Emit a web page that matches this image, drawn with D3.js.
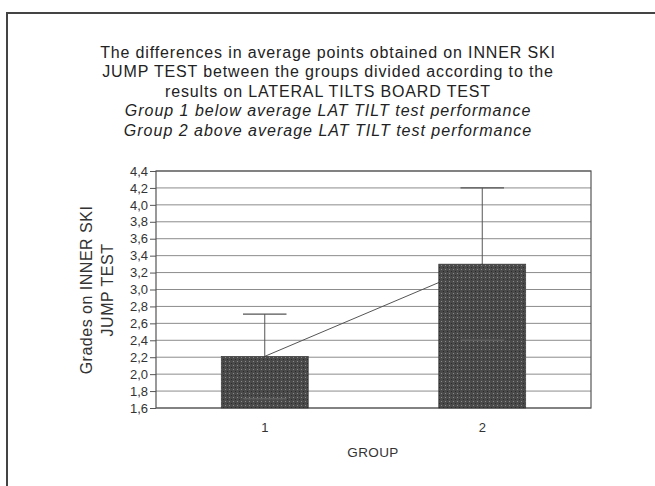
<!DOCTYPE html>
<html><head><meta charset="utf-8">
<script src="https://cdn.jsdelivr.net/npm/d3@7"></script>
<style>body{margin:0;background:#fff}svg{display:block}</style>
</head><body>
<svg id="c" width="655" height="486"></svg>
<script>
const groups = ["1", "2"];
const means = [2.21, 3.30];
const errors = [0.50, 0.90];
const yTicks = [1.6,1.8,2.0,2.2,2.4,2.6,2.8,3.0,3.2,3.4,3.6,3.8,4.0,4.2,4.4];
const titleLines = [
  "The differences in average points obtained on INNER SKI",
  "JUMP TEST between the groups divided according to the",
  "results on LATERAL TILTS BOARD TEST"
];
const subtitleLines = [
  "Group 1 below average LAT TILT test performance",
  "Group 2 above average LAT TILT test performance"
];
const yTitle = ["Grades on INNER SKI", "JUMP TEST"];
const xTitle = "GROUP";

const svg = d3.select("#c");
const font = "Liberation Sans, Arial, sans-serif";
const m = {l:156, r:591, t:171, b:408};

// pattern
const defs = svg.append("defs");
const pat = defs.append("pattern").attr("id","dots").attr("width",4).attr("height",4).attr("patternUnits","userSpaceOnUse");
pat.append("rect").attr("width",4).attr("height",4).attr("fill","#4a4a4a");
pat.append("rect").attr("x",1).attr("y",1).attr("width",1).attr("height",1).attr("fill","#8a8a8a");
pat.append("rect").attr("x",3).attr("y",3).attr("width",1).attr("height",1).attr("fill","#2a2a2a");

// outer frame
svg.append("path").attr("d","M7,490 L7,13 L660,13").attr("fill","none").attr("stroke","#444").attr("stroke-width",2);

const x = d3.scaleBand().domain(groups).range([m.l, m.r]).paddingInner(0.6).paddingOuter(0.3);
const y = d3.scaleLinear().domain([1.6, 4.4]).range([m.b, m.t]);

// gridlines
svg.append("g").selectAll("line").data(yTicks).join("line")
  .attr("x1", m.l).attr("x2", m.r)
  .attr("y1", d=>y(d)).attr("y2", d=>y(d))
  .attr("stroke","#8c8c8c").attr("stroke-width",1);

// y axis
const yAxis = svg.append("g").attr("transform",`translate(${m.l},0)`)
  .call(d3.axisLeft(y).tickValues(yTicks).tickSize(6).tickPadding(2).tickFormat(d=>d3.format(".1f")(d).replace(".",",")));
yAxis.select(".domain").remove();
yAxis.selectAll("line").attr("stroke","#555");
yAxis.selectAll("text").attr("font-family",font).attr("font-size",13).attr("fill","#333");

// plot frame
svg.append("rect").attr("x",m.l).attr("y",m.t).attr("width",m.r-m.l).attr("height",m.b-m.t)
  .attr("fill","none").attr("stroke","#555").attr("stroke-width",1.2);

const cx = g => x(g) + x.bandwidth()/2;

// line between means
svg.append("path")
  .datum(groups.map((g,i)=>[cx(g), y(means[i])]))
  .attr("d", d3.line())
  .attr("fill","none").attr("stroke","#555").attr("stroke-width",1);

// error bars
const capW = x.bandwidth()*0.5;
const eb = svg.append("g").selectAll("g").data(groups).join("g");
eb.append("line").attr("x1",cx).attr("x2",cx)
  .attr("y1",(g,i)=>y(means[i]+errors[i])).attr("y2",(g,i)=>y(means[i]-errors[i]))
  .attr("stroke","#555").attr("stroke-width",1);
eb.append("line").attr("x1",g=>cx(g)-capW/2).attr("x2",g=>cx(g)+capW/2)
  .attr("y1",(g,i)=>y(means[i]+errors[i])).attr("y2",(g,i)=>y(means[i]+errors[i]))
  .attr("stroke","#555").attr("stroke-width",1.2);

// bars
svg.append("g").selectAll("rect").data(groups).join("rect")
  .attr("x", g=>x(g)).attr("width", x.bandwidth())
  .attr("y",(g,i)=>y(means[i])).attr("height",(g,i)=>m.b - y(means[i]))
  .attr("fill","url(#dots)").attr("stroke","#333").attr("stroke-width",0.6);

// lower error caps inside bars (faint)
svg.append("g").selectAll("line").data(groups).join("line")
  .attr("x1",g=>cx(g)-capW/2).attr("x2",g=>cx(g)+capW/2)
  .attr("y1",(g,i)=>y(means[i]-errors[i])).attr("y2",(g,i)=>y(means[i]-errors[i]))
  .attr("stroke","#5e5e5e").attr("stroke-width",1.5);

// x axis labels
const xAxis = svg.append("g").attr("transform",`translate(0,${m.b})`)
  .call(d3.axisBottom(x).tickSize(0).tickPadding(15));
xAxis.select(".domain").remove();
xAxis.selectAll("text").attr("font-family",font).attr("font-size",13).attr("fill","#333");

svg.append("text").attr("x", 373).attr("y", 457).attr("text-anchor","middle")
  .attr("font-family",font).attr("font-size",13.5).attr("letter-spacing",0.4).attr("fill","#333").text(xTitle);

// y title
const yt = svg.append("text").attr("transform","translate(92,290) rotate(-90)")
  .attr("text-anchor","middle").attr("font-family",font).attr("font-size",16).attr("letter-spacing",0.5).attr("fill","#333");
yTitle.forEach((t,i)=>yt.append("tspan").attr("x",0).attr("dy", i? 21:0).text(t));

// titles
const tx = 328;
const ty0 = 57.5, tdy = 19.5;
titleLines.forEach((t,i)=>svg.append("text").attr("x",tx).attr("y",ty0+i*tdy)
  .attr("text-anchor","middle").attr("font-family",font).attr("font-size",16).attr("letter-spacing",0.85).attr("fill","#222").text(t));
subtitleLines.forEach((t,i)=>svg.append("text").attr("x",tx).attr("y",ty0+(i+3)*tdy)
  .attr("text-anchor","middle").attr("font-family",font).attr("font-style","italic").attr("font-size",16).attr("letter-spacing",1.0).attr("fill","#222").text(t));
</script>
</body></html>
